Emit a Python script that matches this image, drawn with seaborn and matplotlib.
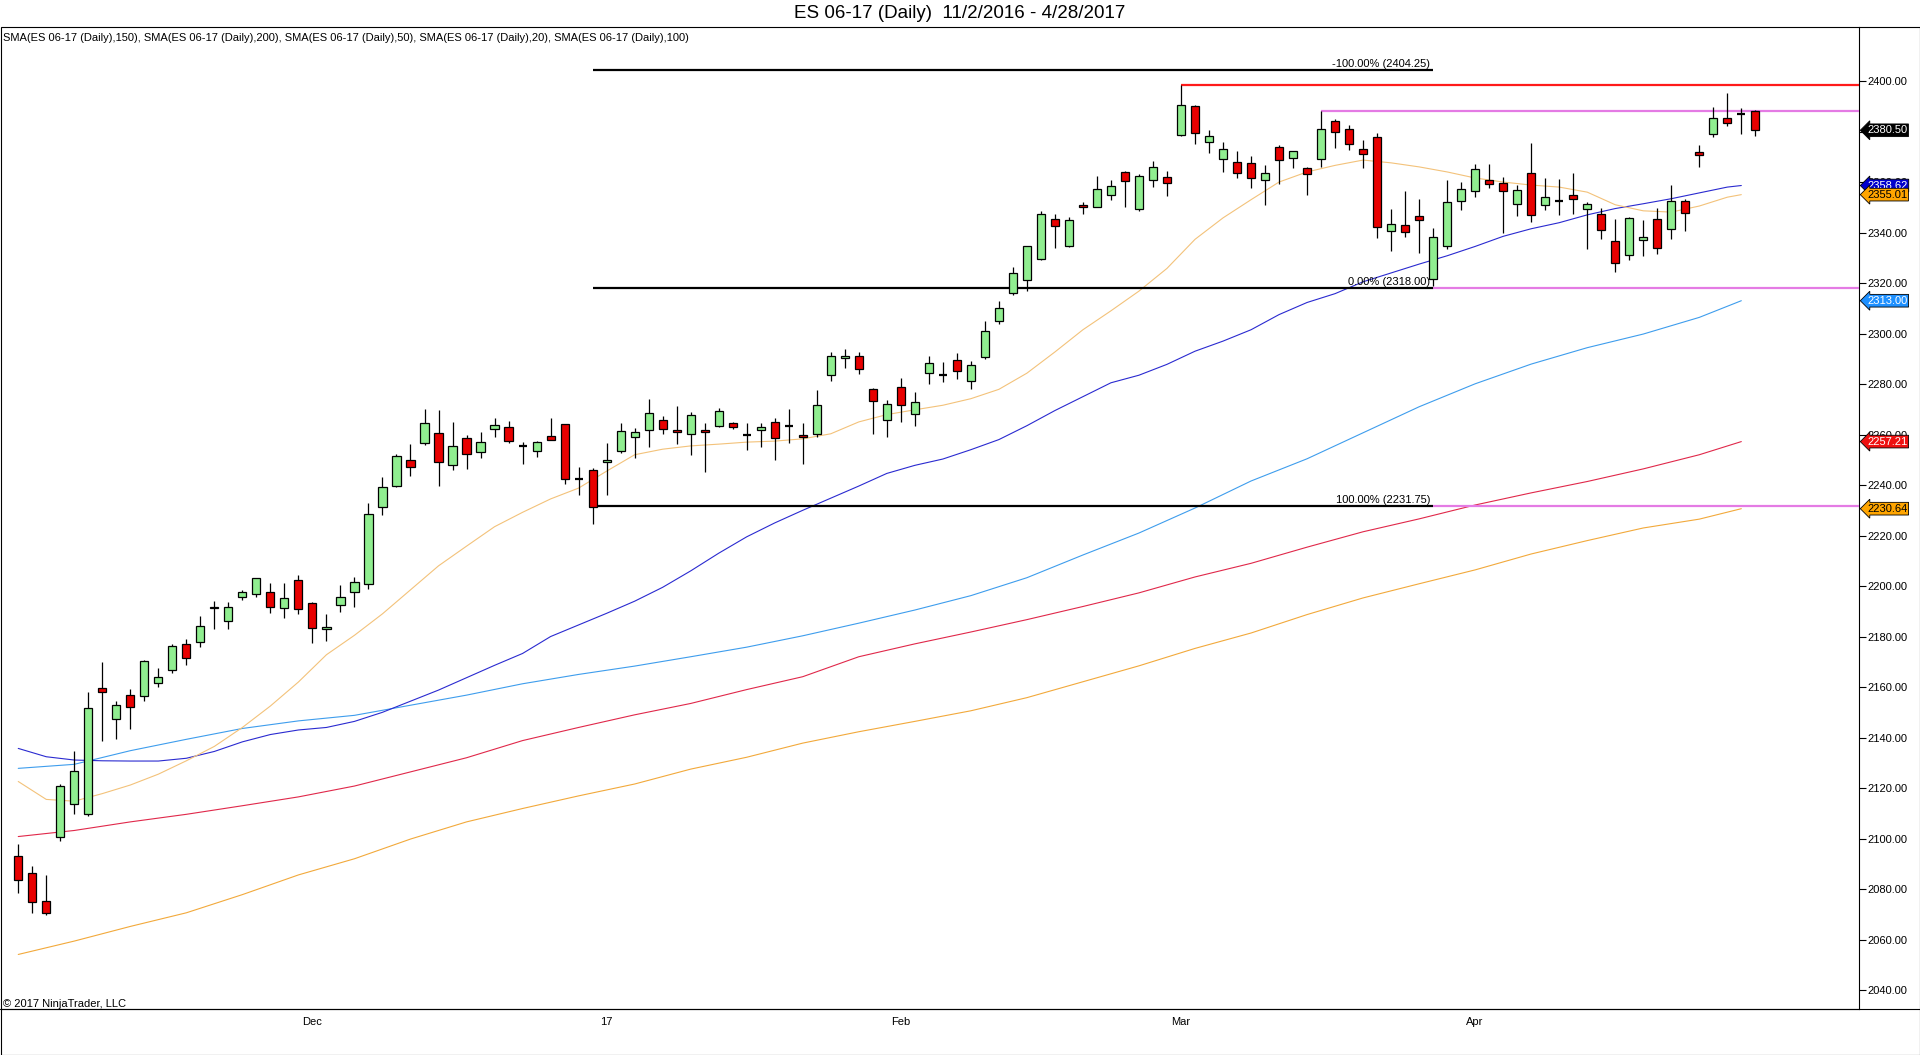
import matplotlib
matplotlib.use('Agg')
import matplotlib.pyplot as plt
import matplotlib.transforms as mtransforms
from matplotlib.patches import Rectangle
from matplotlib.lines import Line2D
import numpy as np
import pandas as pd
import seaborn as sns

# daily OHLC, ES 06-17, 11/2/2016 - 4/28/2017 (one entry per bar)
opens = [2092.9, 2086.2, 2075.2, 2100.7, 2113.5, 2109.9, 2159.5, 2147.5, 2156.7, 2156.6,
         2161.7, 2166.6, 2176.9, 2177.7, 2191.2, 2186.0, 2195.5, 2196.7, 2197.5, 2191.5,
         2202.2, 2193.1, 2182.8, 2192.3, 2197.5, 2201.0, 2231.5, 2239.7, 2249.8, 2256.5,
         2260.5, 2248.1, 2258.5, 2252.9, 2262.0, 2262.8, 2255.4, 2253.3, 2259.3, 2264.0,
         2242.4, 2245.8, 2249.0, 2253.3, 2258.9, 2261.7, 2265.6, 2261.8, 2260.3, 2261.8,
         2263.5, 2264.4, 2259.7, 2261.7, 2264.8, 2263.5, 2259.7, 2260.3, 2283.4, 2290.2,
         2291.0, 2278.0, 2265.6, 2278.7, 2268.0, 2284.2, 2283.6, 2289.4, 2281.4, 2290.8,
         2305.1, 2316.2, 2321.1, 2329.6, 2345.2, 2334.8, 2350.9, 2350.2, 2355.0, 2363.8,
         2349.4, 2361.0, 2361.9, 2378.7, 2390.0, 2376.0, 2369.2, 2367.8, 2367.4, 2360.9,
         2373.7, 2369.4, 2365.4, 2369.0, 2384.0, 2380.9, 2372.9, 2377.7, 2340.5, 2342.8,
         2346.5, 2321.5, 2334.8, 2352.3, 2356.3, 2360.8, 2359.5, 2351.2, 2363.4, 2350.8,
         2352.3, 2354.7, 2349.2, 2347.2, 2336.5, 2331.0, 2337.0, 2345.2, 2341.3, 2352.3,
         2371.8, 2378.9, 2385.2, 2386.8, 2388.3]
highs = [2097.8, 2089.1, 2085.5, 2121.6, 2134.6, 2158.1, 2169.9, 2154.4, 2159.2, 2170.9,
         2167.5, 2176.9, 2179.0, 2188.1, 2194.1, 2193.7, 2198.4, 2203.0, 2201.2, 2201.2,
         2204.3, 2193.7, 2188.9, 2200.4, 2203.4, 2232.7, 2243.2, 2252.3, 2256.2, 2270.1,
         2269.7, 2264.9, 2259.7, 2261.0, 2266.5, 2265.2, 2257.0, 2257.4, 2266.5, 2264.0,
         2247.0, 2246.6, 2256.6, 2264.4, 2262.4, 2274.1, 2267.3, 2271.3, 2268.9, 2264.4,
         2270.4, 2265.0, 2264.6, 2264.4, 2266.5, 2270.1, 2264.6, 2277.6, 2292.7, 2293.9,
         2292.7, 2278.4, 2273.7, 2282.4, 2276.8, 2291.1, 2288.7, 2292.3, 2289.1, 2304.8,
         2312.9, 2326.3, 2334.8, 2348.5, 2347.2, 2346.0, 2352.0, 2362.4, 2360.8, 2364.4,
         2363.2, 2368.3, 2364.4, 2398.5, 2390.4, 2380.6, 2375.7, 2372.3, 2370.2, 2366.6,
         2374.5, 2372.3, 2365.8, 2388.0, 2384.8, 2382.7, 2376.6, 2379.3, 2349.3, 2356.4,
         2353.3, 2341.9, 2360.8, 2360.0, 2367.1, 2367.1, 2361.9, 2358.8, 2375.3, 2361.5,
         2361.2, 2363.6, 2351.9, 2349.6, 2345.3, 2346.1, 2344.8, 2349.6, 2358.8, 2353.1,
         2374.6, 2389.6, 2395.3, 2389.2, 2388.5]
lows = [2078.3, 2070.6, 2069.8, 2099.1, 2109.7, 2109.0, 2138.7, 2139.5, 2143.5, 2154.3,
        2160.1, 2165.4, 2168.8, 2176.0, 2183.1, 2183.1, 2194.3, 2195.8, 2189.4, 2187.5,
        2188.8, 2177.3, 2178.3, 2189.8, 2191.8, 2198.9, 2228.2, 2239.3, 2243.7, 2256.0,
        2239.6, 2246.1, 2246.3, 2250.7, 2259.1, 2256.8, 2248.4, 2251.2, 2257.7, 2240.5,
        2236.2, 2224.6, 2236.0, 2252.8, 2250.8, 2255.2, 2260.3, 2256.4, 2252.0, 2245.3,
        2263.1, 2262.2, 2254.0, 2255.2, 2250.0, 2256.8, 2248.5, 2258.9, 2281.3, 2286.5,
        2284.1, 2260.4, 2259.1, 2265.1, 2263.5, 2280.1, 2280.7, 2282.1, 2277.9, 2289.9,
        2303.9, 2315.4, 2317.0, 2329.1, 2334.0, 2334.4, 2347.5, 2350.0, 2352.9, 2350.2,
        2348.6, 2358.2, 2354.6, 2378.4, 2375.2, 2371.6, 2364.1, 2361.7, 2357.7, 2351.0,
        2359.3, 2365.7, 2355.0, 2366.1, 2373.6, 2372.7, 2365.7, 2338.0, 2332.8, 2338.4,
        2332.0, 2319.0, 2333.5, 2349.0, 2354.2, 2357.6, 2339.9, 2346.7, 2344.3, 2348.8,
        2346.9, 2347.5, 2333.3, 2337.6, 2324.2, 2329.0, 2330.6, 2331.4, 2337.3, 2340.7,
        2366.1, 2377.7, 2382.3, 2379.0, 2378.4]
closes = [2083.4, 2075.0, 2070.6, 2120.8, 2126.6, 2151.9, 2157.9, 2152.7, 2152.2, 2170.4,
          2163.8, 2176.1, 2171.7, 2184.0, 2191.9, 2191.9, 2197.5, 2203.0, 2191.9, 2195.1,
          2191.1, 2183.2, 2183.6, 2195.5, 2201.8, 2228.4, 2239.1, 2251.4, 2247.0, 2264.4,
          2249.0, 2255.3, 2252.1, 2256.9, 2263.6, 2257.6, 2255.4, 2256.9, 2257.7, 2242.5,
          2242.4, 2231.5, 2249.9, 2261.6, 2260.9, 2268.4, 2262.0, 2260.9, 2267.6, 2260.9,
          2269.2, 2262.9, 2259.7, 2262.9, 2258.8, 2263.5, 2258.9, 2271.6, 2291.0, 2291.0,
          2285.8, 2273.1, 2271.9, 2271.8, 2272.7, 2288.2, 2283.6, 2285.0, 2287.4, 2301.2,
          2310.0, 2323.8, 2334.5, 2347.2, 2342.7, 2344.8, 2350.0, 2357.2, 2358.3, 2360.5,
          2362.2, 2365.8, 2359.7, 2390.4, 2379.3, 2378.1, 2372.9, 2363.7, 2361.7, 2363.4,
          2368.6, 2372.3, 2363.0, 2380.9, 2379.7, 2374.9, 2371.0, 2342.1, 2343.2, 2340.1,
          2344.8, 2338.2, 2352.1, 2357.1, 2365.0, 2359.1, 2356.3, 2356.8, 2346.8, 2353.9,
          2352.3, 2353.1, 2351.5, 2341.0, 2327.8, 2345.6, 2338.1, 2333.7, 2352.3, 2347.6,
          2370.6, 2385.2, 2383.2, 2386.8, 2380.5]

# moving averages (bar index, value)
sma20_x = list(range(0, 123, 2)) + [123]
sma20 = [2122.6, 2115.5, 2114.8, 2117.8, 2121.2, 2125.5, 2130.8, 2136.5, 2144.0, 2152.5,
         2162.0, 2172.8, 2180.5, 2189.0, 2198.5, 2208.0, 2215.8, 2223.5, 2229.2, 2234.5,
         2238.8, 2245.5, 2252.0, 2254.2, 2255.5, 2256.2, 2257.0, 2257.4, 2258.3, 2260.3,
         2265.0, 2267.9, 2269.8, 2271.6, 2274.2, 2277.9, 2284.3, 2292.7, 2301.5, 2309.0,
         2316.8, 2325.8, 2337.3, 2345.8, 2353.0, 2360.0, 2364.0, 2366.6, 2368.7, 2367.6,
         2366.0, 2364.0, 2361.6, 2360.0, 2358.8, 2358.0, 2356.0, 2351.0, 2348.6, 2348.1,
         2350.5, 2354.0, 2355.01]
sma50_x = list(range(0, 123, 2)) + [123]
sma50 = [2135.7, 2132.4, 2131.1, 2130.8, 2130.7, 2130.7, 2131.8, 2134.5, 2138.3, 2141.2,
         2143.0, 2144.0, 2146.4, 2150.0, 2154.4, 2158.8, 2163.7, 2168.6, 2173.3, 2180.0,
         2184.6, 2189.2, 2194.0, 2199.5, 2206.0, 2213.0, 2219.5, 2225.0, 2230.0, 2234.8,
         2239.6, 2244.6, 2247.8, 2250.3, 2254.0, 2258.0, 2263.5, 2269.5, 2275.0, 2280.5,
         2283.5, 2287.8, 2293.0, 2297.0, 2301.5, 2307.5, 2312.3, 2315.8, 2320.5, 2324.0,
         2327.5, 2330.8, 2334.5, 2338.5, 2341.5, 2343.9, 2347.0, 2349.5, 2351.4, 2353.4,
         2355.7, 2358.0, 2358.62]
slow_x = list(range(0, 121, 4)) + [123]
sma100 = [2100.8, 2103.2, 2106.6, 2109.6, 2113.0, 2116.5, 2120.8, 2126.4, 2132.0, 2138.8,
          2144.0, 2149.0, 2153.5, 2159.0, 2164.1, 2172.0, 2177.1, 2181.8, 2186.7, 2191.9,
          2197.3, 2203.6, 2209.0, 2215.4, 2221.5, 2226.6, 2232.1, 2236.9, 2241.4, 2246.4,
          2252.0, 2257.21]
sma150 = [2127.8, 2129.4, 2134.8, 2139.3, 2143.6, 2146.6, 2148.8, 2152.8, 2156.8, 2161.3,
          2165.0, 2168.3, 2172.0, 2175.8, 2180.3, 2185.3, 2190.5, 2196.2, 2203.3, 2212.3,
          2221.0, 2230.9, 2241.6, 2250.4, 2260.7, 2271.0, 2280.1, 2287.9, 2294.4, 2299.8,
          2306.4, 2313.00]
sma200 = [2054.1, 2059.4, 2065.2, 2070.6, 2077.8, 2085.6, 2092.0, 2099.8, 2106.6, 2111.9,
          2116.9, 2121.6, 2127.5, 2132.2, 2137.8, 2142.3, 2146.4, 2150.6, 2155.8, 2162.1,
          2168.4, 2175.3, 2181.4, 2188.7, 2195.3, 2200.9, 2206.4, 2212.7, 2218.0, 2223.0,
          2226.5, 2230.64]

month_pos = [21, 42, 63, 83, 104]
month_labels = ['Dec', '17', 'Feb', 'Mar', 'Apr']
price_ticks = list(range(2040, 2401, 20))

fib_levels = [2231.75, 2318.00, 2404.25]
fib_labels = ['100.00% (2231.75)', '0.00% (2318.00)', '-100.00% (2404.25)']
fib_start, fib_end = 41, 101

# horizontal rays: (start bar, level, colour)
rays = [(83, 2398.5, '#ff1a1a'), (93, 2388.0, '#e47be4'),
        (101, 2318.0, '#e47be4'), (101, 2231.75, '#e47be4')]

legend_text = ('SMA(ES 06-17 (Daily),150), SMA(ES 06-17 (Daily),200), '
               'SMA(ES 06-17 (Daily),50), SMA(ES 06-17 (Daily),20), '
               'SMA(ES 06-17 (Daily),100)')

sns.set_style('white')
plt.rcParams['font.family'] = ['Liberation Sans', 'DejaVu Sans']

W, H = 1920, 1055
fig = plt.figure(figsize=(W / 100, H / 100), dpi=100)
fig.patch.set_facecolor('white')


def fx(px):
    return px / W


def fy(py):
    return 1 - py / H


ax = fig.add_axes([fx(2), fy(1009), fx(1859) - fx(2), fy(27) - fy(1009)])
x_left, x_right = -1.16, 131.4
ax.set_xlim(x_left, x_right)
ax.set_ylim(2032.5, 2421.4)

# moving averages
sma_lines = [(slow_x, sma200, '#f2a93b'), (slow_x, sma100, '#e0284a'),
             (slow_x, sma150, '#3e9ded'), (sma50_x, sma50, '#2a2ad0'),
             (sma20_x, sma20, '#f3c27a')]
for xs, ys, c in sma_lines:
    sns.lineplot(x=xs, y=ys, ax=ax, color=c, linewidth=0.8, zorder=2)

# fib extension and rays
for lvl, lab in zip(fib_levels, fib_labels):
    ax.hlines(lvl, fib_start, fib_end, color='black', linewidth=1.6, zorder=3)
    ax.text(fib_end - 0.2, lvl + 0.4, lab, ha='right', va='bottom',
            fontsize=8, color='black', zorder=6)
for start, lvl, c in rays:
    ax.hlines(lvl, start, x_right, color=c, linewidth=1.6, zorder=3)

# candles
df = pd.DataFrame({'open': opens, 'high': highs, 'low': lows, 'close': closes})
df['bar'] = np.arange(len(df))
ax.vlines(df.bar, df.low, df.high, color='black', linewidth=0.9, zorder=4)
move = (df.close - df.open).abs()
body = df[move >= 0.3]
body_col = np.where(body.close > body.open, '#90ee90', '#e80000')
ax.bar(body.bar, (body.close - body.open).abs(),
       bottom=body[['open', 'close']].min(axis=1), width=0.58,
       color=body_col, edgecolor='black', linewidth=0.9, zorder=5)
doji = df[move < 0.3]
ax.hlines(doji.close, doji.bar - 0.29, doji.bar + 0.29, color='black',
          linewidth=1.6, zorder=5)

# axes
for side in ['left', 'top']:
    ax.spines[side].set_visible(False)
for side in ['right', 'bottom']:
    ax.spines[side].set_color('black')
    ax.spines[side].set_linewidth(0.8)
ax.yaxis.tick_right()
ax.set_yticks(price_ticks)
ax.set_yticklabels([f'{v:.2f}' for v in price_ticks])
ax.set_xticks(month_pos)
ax.set_xticklabels(month_labels)
ax.tick_params(axis='y', direction='out', length=5, width=0.8, pad=1,
               labelsize=8, colors='black')
ax.tick_params(axis='x', direction='out', length=5, width=0.8, pad=1,
               labelsize=8, colors='black')
ax.set_xlabel('')
ax.set_ylabel('')
ax.grid(False)

# value tags on the price axis
tags = [(closes[-1], 'black', 'white'), (sma50[-1], '#0000cd', 'white'),
        (sma20[-1], '#ffa500', 'black'), (sma150[-1], '#1e90ff', 'white'),
        (sma100[-1], '#ee1111', 'white'), (sma200[-1], '#ffa500', 'black')]
trans = mtransforms.blended_transform_factory(ax.transAxes, ax.transData)
ax_w = (1859 - 2)
for v, fc, tc in tags:
    ax.text(1 + 8 / ax_w, v, f'{v:.2f}', transform=trans, ha='left', va='center',
            fontsize=8, color=tc, zorder=10, clip_on=False,
            bbox=dict(boxstyle='larrow,pad=0.12', fc=fc, ec='black', lw=0.6))

# frame, texts
fig.add_artist(Rectangle((fx(0.5), fy(1054.5)), fx(1919.5) - fx(0.5),
                         fy(27) - fy(1054.5), transform=fig.transFigure,
                         fill=False, ec='black', lw=0.8))
fig.add_artist(Line2D([fx(0), fx(1920)], [fy(1009), fy(1009)],
                      transform=fig.transFigure, color='black', lw=0.8))
fig.text(0.5, fy(14), 'ES 06-17 (Daily)  11/2/2016 - 4/28/2017', ha='center',
         va='center', fontsize=13.5, color='black')
fig.text(fx(3), fy(38), legend_text, ha='left', va='center', fontsize=8,
         color='black')
fig.text(fx(3), fy(1007), '\u00a9 2017 NinjaTrader, LLC', ha='left',
         va='baseline', fontsize=8, color='black')

fig.savefig('out.png', dpi=100, facecolor='white')
